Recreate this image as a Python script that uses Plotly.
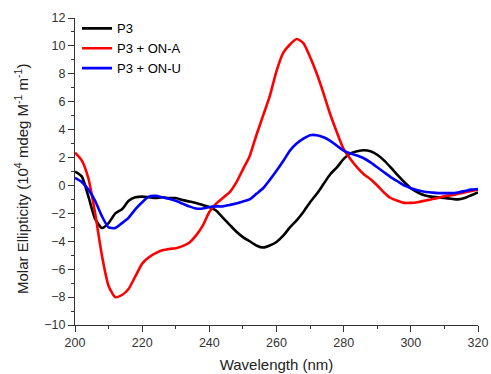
import plotly.graph_objects as go

wavelength = list(range(200, 322, 2))

p3 = [1.0, 0.65, -0.8, -2.4, -3.05, -2.7, -2.0, -1.7, -1.1, -0.85,
      -0.8, -0.85, -0.9, -0.85, -0.9, -0.9, -1.05, -1.15, -1.25, -1.4,
      -1.55, -1.8, -2.3, -2.8, -3.3, -3.7, -4.0, -4.3, -4.45, -4.3,
      -4.05, -3.6, -3.0, -2.5, -1.9, -1.2, -0.6, 0.1, 0.8, 1.3,
      1.9, 2.3, 2.45, 2.52, 2.45, 2.2, 1.8, 1.3, 0.75, 0.25,
      -0.2, -0.5, -0.7, -0.8, -0.85, -0.9, -0.95, -1.0, -0.9, -0.7, -0.5]

p3_ona = [2.35, 1.8, 0.5, -2.0, -5.0, -7.2, -8.0, -7.85, -7.4, -6.5,
          -5.6, -5.15, -4.85, -4.65, -4.55, -4.5, -4.35, -4.1, -3.6, -2.9,
          -1.9, -1.3, -0.9, -0.5, 0.2, 1.15, 2.1, 3.6, 5.0, 6.4,
          8.2, 9.5, 10.1, 10.5, 10.2, 9.2, 8.0, 6.6, 5.1, 3.8,
          2.6, 1.9, 1.3, 0.8, 0.45, 0.0, -0.5, -0.9, -1.1, -1.25,
          -1.25, -1.2, -1.1, -1.0, -0.9, -0.77, -0.7, -0.6, -0.5, -0.4, -0.3]

p3_onu = [0.55, 0.25, -0.3, -1.1, -2.2, -3.0, -3.05, -2.7, -2.3, -1.7,
          -1.2, -0.8, -0.75, -0.85, -0.95, -1.1, -1.3, -1.5, -1.65, -1.65,
          -1.55, -1.5, -1.5, -1.4, -1.3, -1.15, -1.0, -0.6, -0.2, 0.4,
          1.05, 1.75, 2.5, 3.0, 3.35, 3.6, 3.6, 3.45, 3.2, 2.85,
          2.5, 2.3, 2.15, 1.95, 1.65, 1.3, 0.95, 0.6, 0.3, 0.0,
          -0.2, -0.35, -0.45, -0.5, -0.55, -0.55, -0.55, -0.5, -0.4, -0.3, -0.25]

series = [("P3", p3, "#000000"), ("P3 + ON-A", p3_ona, "#ff0000"), ("P3 + ON-U", p3_onu, "#0000ff")]

FONT = "Liberation Sans, Arial, sans-serif"

fig = go.Figure()
for name, vals, col in series:
    fig.add_trace(go.Scatter(x=wavelength, y=vals, mode="lines", name=name,
                             line=dict(color=col, width=2.6, shape="spline", smoothing=0.6)))

axis_common = dict(showline=True, linecolor="#333333", linewidth=1, ticks="outside",
                   ticklen=6, tickwidth=1, tickcolor="#333333", showgrid=False, zeroline=False,
                   tickfont=dict(family=FONT, size=12.5, color="#333333"),
                   mirror=False, automargin=False)

fig.update_layout(
    width=491, height=374,
    margin=dict(l=75, r=13, t=18, b=49),
    paper_bgcolor="white", plot_bgcolor="white",
    font=dict(family=FONT, color="#222222"),
    xaxis=dict(range=[200, 320], dtick=20, tick0=200,
               minor=dict(ticks="outside", ticklen=3, dtick=10, tickcolor="#333333"),
               title=dict(text="Wavelength (nm)", font=dict(size=15), standoff=10),
               **axis_common),
    yaxis=dict(range=[-10, 12], dtick=2, tick0=-10,
               minor=dict(ticks="outside", ticklen=3, dtick=1, tickcolor="#333333"),
               **axis_common),
    legend=dict(x=0.005, y=1.015, xanchor="left", yanchor="top", bgcolor="rgba(0,0,0,0)",
                font=dict(size=13, color="#000000"), tracegroupgap=0),
    showlegend=True,
    annotations=[dict(text="Molar Ellipticity (10<sup>4</sup> mdeg M<sup>-1</sup> m<sup>-1</sup>)",
                      xref="paper", yref="paper", x=(21 - 75) / 403, y=(325 - 179) / 307,
                      xanchor="center", yanchor="middle", textangle=-90, showarrow=False,
                      font=dict(family=FONT, size=15, color="#222222"))],
)

fig.write_html("out.html", config={"displayModeBar": False},
               post_script="document.body.style.margin='0';")
